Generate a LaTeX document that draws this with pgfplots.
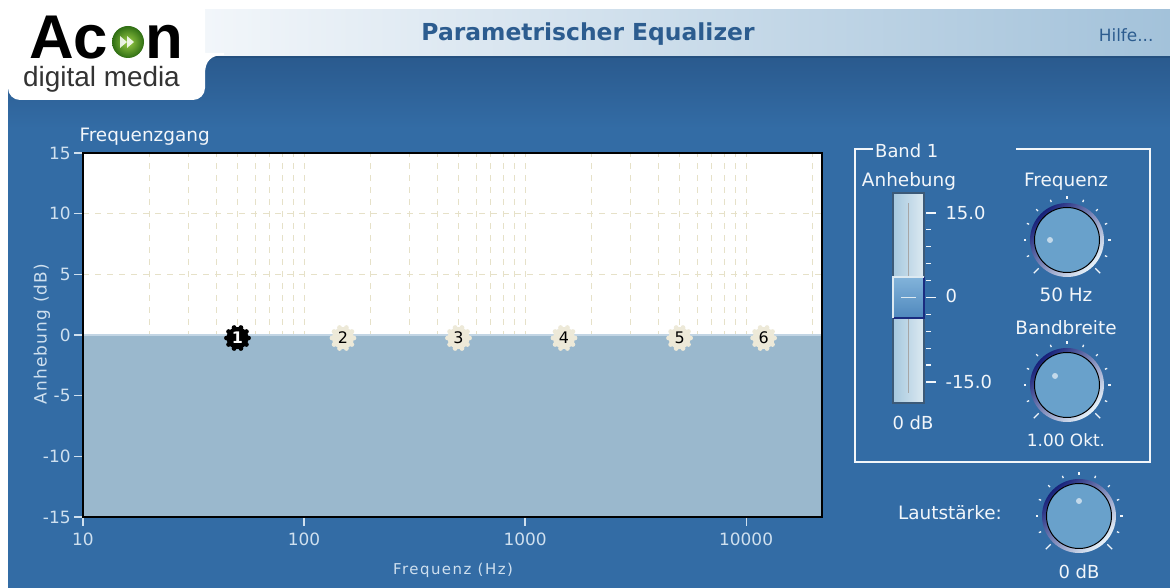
\documentclass[border=0pt]{standalone}
\usepackage{fontspec}
\setmainfont{DejaVu Sans}
\newfontfamily\arial{Liberation Sans}
\newfontfamily\spaced{DejaVu Sans}[LetterSpace=10]
\newfontfamily\spacedb{DejaVu Sans}[LetterSpace=7]
\usepackage{pgfplots}
\pgfplotsset{compat=1.18}

\definecolor{bgblue}{HTML}{336CA5}
\definecolor{bgtop}{HTML}{2A5A8E}
\definecolor{hdrL}{HTML}{F2F6FA}
\definecolor{hdrR}{HTML}{A3C2DA}
\definecolor{hdrline}{HTML}{24507F}
\definecolor{titlecol}{HTML}{2C5C8F}
\definecolor{fillcol}{HTML}{9AB8CD}
\definecolor{gridcol}{HTML}{E6E1C8}
\definecolor{tickcol}{HTML}{CFE0EF}
\definecolor{paneltext}{HTML}{F2F6FA}
\definecolor{beige}{HTML}{EDE9D8}
\definecolor{knobbody}{HTML}{69A1CB}
\definecolor{knobdark}{HTML}{17217A}
\definecolor{knobmid}{HTML}{3B7BC0}
\definecolor{knoblight}{HTML}{E8F3FA}
\definecolor{respcol}{HTML}{C2D5E4}
\definecolor{trackL}{HTML}{A6C8DE}
\definecolor{trackR}{HTML}{DCE9F1}
\definecolor{trackborder}{HTML}{3C5A78}
\definecolor{thumbT}{HTML}{82B3DA}
\definecolor{thumbB}{HTML}{4F88BD}
\definecolor{thumbdark}{HTML}{1A2C80}
\definecolor{logogreenL}{HTML}{9ACD45}
\definecolor{logogreenD}{HTML}{2F6E14}

\pgfdeclareplotmark{band}{%
 \pgfpathcircle{\pgfpointorigin}{11bp}%
 \pgfpathcircle{\pgfpointpolar{0}{11bp}}{2.4bp}%
 \pgfpathcircle{\pgfpointpolar{36}{11bp}}{2.4bp}%
 \pgfpathcircle{\pgfpointpolar{72}{11bp}}{2.4bp}%
 \pgfpathcircle{\pgfpointpolar{108}{11bp}}{2.4bp}%
 \pgfpathcircle{\pgfpointpolar{144}{11bp}}{2.4bp}%
 \pgfpathcircle{\pgfpointpolar{180}{11bp}}{2.4bp}%
 \pgfpathcircle{\pgfpointpolar{216}{11bp}}{2.4bp}%
 \pgfpathcircle{\pgfpointpolar{252}{11bp}}{2.4bp}%
 \pgfpathcircle{\pgfpointpolar{288}{11bp}}{2.4bp}%
 \pgfpathcircle{\pgfpointpolar{324}{11bp}}{2.4bp}%
 \pgfusepathqfill}

\newcommand\knob[4]{% x, y, indicator angle, indicator radius
 \begin{scope}[shift={(#1,#2)}]
  \foreach \a in {-22.5,0,...,202.5} \draw[paneltext, line width=1.3] (\a:41) -- (\a:43.5);
  \draw[paneltext, line width=1.3] (-45:40) -- (-45:47);
  \draw[paneltext, line width=1.3] (225:40) -- (225:47);
  \shade[top color=knobdark, middle color=knobmid, bottom color=knoblight, shading angle=45] (0,0) circle (37);
  \fill[knobbody] (0,0) circle (32.5);
  \draw[black, line width=1] (0,0) circle (32.5);
  \fill[white, opacity=0.6] (#3:#4) circle (3);
 \end{scope}}

\begin{document}
\begin{tikzpicture}
\begin{scope}[x=1bp,y=1bp]
\path[use as bounding box] (0,0) rectangle (1170,588);
\fill[white] (0,0) rectangle (1170,588);
% header bar
\shade[left color=hdrL, right color=hdrR] (205,531) rectangle (1170,578);
\fill[bgblue] (8,0) rectangle (1170,531);
\shade[top color=bgtop, bottom color=bgblue] (8,460) rectangle (1170,531);
\draw[hdrline, line width=1.5] (8,531) -- (1170,531);
\node[titlecol, font=\bfseries\fontsize{23.5}{27}\selectfont] at (588,554) {Parametrischer Equalizer};
\node[titlecol, font=\fontsize{17}{19}\selectfont, anchor=east] at (1157,553) {Hilfe...};
% logo panel
\fill[white] (8,578) -- (8,500) arc[start angle=180,end angle=270,radius=12] -- (193,488) arc[start angle=270,end angle=360,radius=12] -- (205,514) .. controls (205,527) and (211,533) .. (224,533) -- (224,535) -- (205,535) -- (205,578) -- cycle;
\node[anchor=base west, inner sep=0, font=\arial\bfseries\fontsize{62}{62}\selectfont] at (29,529) {Ac};
\node[anchor=base west, inner sep=0, font=\arial\bfseries\fontsize{62}{62}\selectfont] at (145,529) {n};
\shade[inner color=logogreenL, outer color=logogreenD] (128,546) circle (16);
\fill[white, opacity=0.85] (120,540) -- (127,546) -- (120,552) -- cycle;
\fill[white, opacity=0.85] (127,540) -- (134,546) -- (127,552) -- cycle;
\node[anchor=base west, inner sep=0, text=black!80, font=\arial\fontsize{28}{28}\selectfont] at (23,501) {digital media};
% chart labels
\node[anchor=west, paneltext, font=\fontsize{18.5}{20}\selectfont] at (76,451) {Frequenzgang};
\node[tickcol, font=\spaced\fontsize{15}{17}\selectfont] at (453,18) {Frequenz (Hz)};
\node[tickcol, rotate=90, font=\spacedb\fontsize{17}{19}\selectfont] at (42,254) {Anhebung (dB)};
\end{scope}

\begin{axis}[
  at={(83bp,71bp)}, anchor=south west,
  scale only axis, width=739bp, height=364bp,
  xmode=log, xmin=10, xmax=22050, ymin=-15, ymax=15,
  axis background/.style={fill=white},
  xtick={10,100,1000,10000}, xticklabels={10,100,1000,10000},
  minor xtick={20,30,40,50,60,70,80,90,200,300,400,500,600,700,800,900,2000,3000,4000,5000,6000,7000,8000,9000,20000},
  ytick={-15,-10,-5,0,5,10,15}, yticklabels={-15,-10,-5,0,5,10,15},
  xmajorgrids, xminorgrids, ymajorgrids,
  major grid style={gridcol, dash pattern=on 6bp off 6bp, line width=1bp},
  minor grid style={gridcol, dash pattern=on 6bp off 6bp, line width=1bp},
  tick align=outside, major tick length=9bp, minor tick length=0bp,
  xtick pos=bottom, ytick pos=left,
  tick style={tickcol, line width=1.2bp},
  axis line style={black, line width=2bp},
  ticklabel style={font=\fontsize{17}{19}\selectfont, text=tickcol},
  xticklabel style={yshift=-3bp},
  yticklabel style={xshift=0bp},
]
\addplot[fill=fillcol, draw=none] coordinates {(10,-15) (10,0) (22050,0) (22050,-15)} -- cycle;
\addplot[respcol, line width=1.2bp] coordinates {(10,0) (22050,0)};
\draw[black, line width=2bp] (rel axis cs:0,0) rectangle (rel axis cs:1,1);
\addplot[only marks, mark=band, mark options={fill=black, draw=black},
  point meta=explicit symbolic, nodes near coords,
  every node near coord/.append style={anchor=center, text=white, inner sep=0, font=\bfseries\fontsize{16}{16}\selectfont}]
  coordinates {(50,-0.25) [1]};
\addplot[only marks, mark=band, mark options={fill=beige, draw=beige},
  point meta=explicit symbolic, nodes near coords,
  every node near coord/.append style={anchor=center, text=black, inner sep=0, font=\fontsize{16}{16}\selectfont}]
  coordinates {(150,-0.25) [2] (500,-0.25) [3] (1500,-0.25) [4] (5000,-0.25) [5] (12000,-0.25) [6]};
\end{axis}

\begin{scope}[x=1bp,y=1bp]
% right panel group box
\draw[paneltext, line width=1.5] (873,439) -- (855,439) -- (855,126) -- (1150,126) -- (1150,439) -- (1016,439);
\node[anchor=west, paneltext, inner sep=1, font=\fontsize{18}{20}\selectfont] at (874,437) {Band 1};
\node[paneltext, font=\fontsize{18.5}{20}\selectfont] at (909,407) {Anhebung};
% slider
\shade[left color=trackL, right color=trackR] (893,185) rectangle (924,395);
\draw[trackborder, line width=1.5] (893,185) rectangle (924,395);
\draw[black!35, line width=1] (908,195) -- (908,385);
\shade[top color=thumbT, bottom color=thumbB] (893,270) rectangle (924,311);
\draw[thumbdark, line width=1.8] (893,270) -- (924,270) -- (924,311);
\draw[trackR, line width=1.5] (893,270) -- (893,311) -- (924,311);
\draw[trackR, line width=1.2] (901,290.5) -- (916,290.5);
\foreach \k in {1,2,3,4,6,7,8,9} \draw[paneltext, line width=1.2] (926,{375-16.9*\k}) -- (931,{375-16.9*\k});
\foreach \k in {0,5,10} \draw[paneltext, line width=1.2] (926,{375-16.9*\k}) -- (936,{375-16.9*\k});
\node[anchor=west, paneltext, font=\fontsize{18}{20}\selectfont] at (942,375) {15.0};
\node[anchor=west, paneltext, font=\fontsize{18}{20}\selectfont] at (942,292) {0};
\node[anchor=west, paneltext, font=\fontsize{18}{20}\selectfont] at (942,206) {-15.0};
\node[paneltext, font=\fontsize{18}{20}\selectfont] at (913,165) {0 dB};
% knobs
\node[paneltext, font=\fontsize{18.5}{20}\selectfont] at (1066,406) {Frequenz};
\knob{1067}{348}{180}{17}
\node[paneltext, font=\fontsize{18.5}{20}\selectfont] at (1066,293) {50 Hz};
\node[paneltext, font=\fontsize{18.5}{20}\selectfont] at (1066,260) {Bandbreite};
\knob{1067}{203}{143}{15}
\node[paneltext, font=\fontsize{17}{19}\selectfont] at (1066,148) {1.00 Okt.};
\node[paneltext, font=\fontsize{18.5}{20}\selectfont] at (950,75) {Lautstärke:};
\knob{1079}{72}{90}{15}
\node[paneltext, font=\fontsize{18}{20}\selectfont] at (1079,16) {0 dB};
\end{scope}
\end{tikzpicture}
\end{document}
